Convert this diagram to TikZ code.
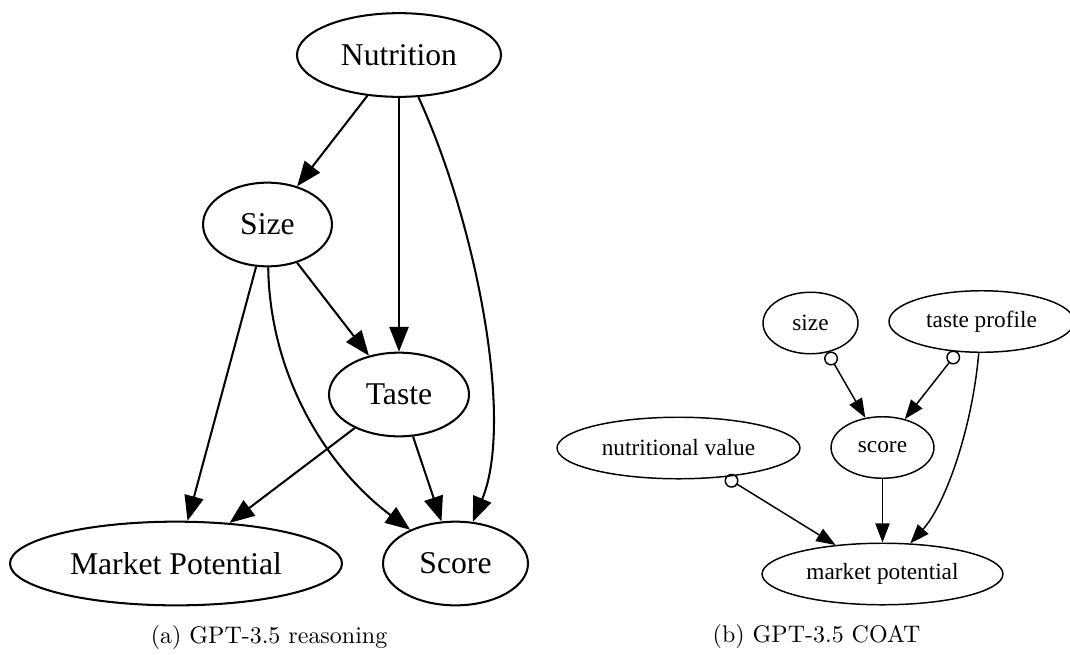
\documentclass[tikz,border=0pt]{standalone}
\usepackage{fontspec}
\newfontfamily\graphfont{Liberation Serif}
\usetikzlibrary{shapes.geometric,arrows.meta}
\begin{document}
\begin{tikzpicture}[x=0.4421pt, y=-0.4421pt,
    bigvar/.style={ellipse, draw, line width=0.9pt, inner sep=0pt, minimum height=37pt, font=\graphfont\fontsize{14}{16}\selectfont},
    smallvar/.style={ellipse, draw, line width=0.65pt, inner sep=0pt, minimum height=27.2pt, font=\graphfont\fontsize{10.3}{12}\selectfont},
    bigedge/.style={line width=0.9pt, -{Triangle[length=11pt, width=8.5pt]}},
    smalledge/.style={line width=0.65pt, -{Triangle[length=8.5pt, width=6.3pt]}},
    circedge/.style={line width=0.65pt, {Circle[open, length=6.2pt, width=6.2pt]}-{Triangle[length=8.5pt, width=6.3pt]}},
    caption/.style={anchor=base, font=\fontsize{10.6}{12}\selectfont}]
    \useasboundingbox (0,0) rectangle (1070,654);
    \node[bigvar, minimum width=90.2pt] (nut) at (399,55) {Nutrition};
    \node[bigvar, minimum width=57pt] (size) at (267.5,224.5) {Size};
    \node[bigvar, minimum width=61.9pt] (taste) at (399,394.5) {Taste};
    \node[bigvar, minimum width=146.8pt] (mp) at (176,563.5) {Market Potential};
    \node[bigvar, minimum width=64.1pt] (score) at (455.5,563.5) {Score};
    \draw[bigedge] (nut) -- (size);
    \draw[bigedge] (nut) -- (taste);
    \draw[bigedge] (nut) .. controls (475,220) and (515,420) .. (score);
    \draw[bigedge] (size) -- (taste);
    \draw[bigedge] (size) -- (mp);
    \draw[bigedge] (size) .. controls (270,380) and (330,470) .. (score);
    \draw[bigedge] (taste) -- (mp);
    \draw[bigedge] (taste) -- (score);
    \node[smallvar, minimum width=42pt] (size2) at (810.5,323) {size};
    \node[smallvar, minimum width=81.8pt] (taste2) at (981.5,321.5) {taste profile};
    \node[smallvar, minimum width=45.5pt] (score2) at (882.5,447.5) {score};
    \node[smallvar, minimum width=107.4pt] (nutval) at (678.5,448) {nutritional value};
    \node[smallvar, minimum width=106.5pt] (market) at (882.5,574) {market potential};
    \draw[circedge] (size2) -- (score2);
    \draw[circedge] (taste2) -- (score2);
    \draw[circedge] (nutval) -- (market);
    \draw[smalledge] (score2) -- (market);
    \draw[smalledge] (taste2) .. controls (972,430) and (945,505) .. (market);
    \node[caption] (capa) at (269,643) {(a) GPT-3.5 reasoning};
    \node[caption] (capb) at (816.5,642) {(b) GPT-3.5 COAT};
\end{tikzpicture}
\end{document}
